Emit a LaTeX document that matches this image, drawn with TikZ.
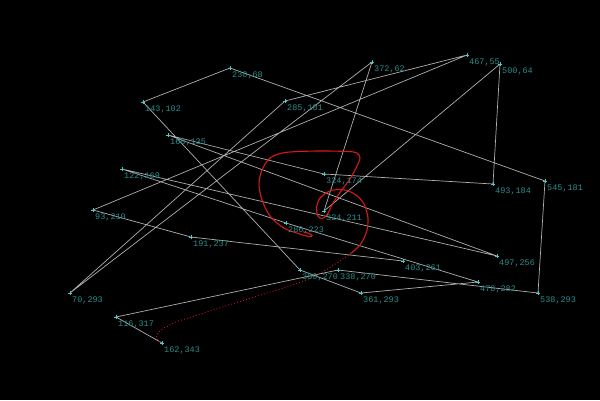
\documentclass[tikz,border=0pt]{standalone}
\usepackage{fontspec}
\setmonofont{Liberation Mono}
\definecolor{edgegray}{RGB}{175,175,175}
\definecolor{markcyan}{RGB}{80,200,200}
\definecolor{labelteal}{RGB}{45,140,140}
\definecolor{curvered}{RGB}{215,25,25}
\tikzset{
  edge/.style={draw=edgegray, line width=0.7pt},
  marker/.style={draw=markcyan, line width=0.7pt},
  lbl/.style={text=labelteal, font=\ttfamily\fontsize{8.5}{9}\selectfont, inner sep=0pt, anchor=north west},
  curvesolid/.style={draw=curvered, line width=1.1pt},
  curvedot/.style={draw=curvered, line width=0.9pt, dash pattern=on 0.9pt off 2.2pt}
}
\begin{document}
\begin{tikzpicture}[x=1pt,y=-1pt]
\fill[black] (0,0) rectangle (600,400);
\useasboundingbox (0,0) rectangle (600,400);
% points
\foreach \px/\py in {143/102,230/68,285/101,372/62,467/55,500/64,168/135,122/169,324/174,493/184,545/181,93/210,324/211,286/223,191/237,403/261,497/256,300/270,338/270,478/282,538/293,361/293,70/293,116/317,162/343}{
  \coordinate (p\px-\py) at (\px,\py);
}
% polyline
\draw[edge] (p403-261) -- (p191-237) -- (p93-210) -- (p467-55) -- (p285-101) -- (p70-293) -- (p372-62) -- (p324-211) -- (p500-64) -- (p493-184) -- (p324-174) -- (p168-135) -- (p497-256) -- (p122-169) -- (p286-223) -- (p478-282) -- (p361-293) -- (p300-270) -- (p143-102) -- (p230-68) -- (p545-181) -- (p538-293) -- (p338-270) -- (p116-317) -- (p162-343);
% red curve
\draw[curvedot] plot[smooth, tension=0.5] coordinates {(160,342) (156.5,338) (157.5,334) (161,330) (167,326.5) (177,321.5) (193,316.5) (213,310) (240,301.5) (267,293) (293,285) (317,275) (337,263) (350,254)};
\draw[curvesolid] plot[smooth, tension=0.5] coordinates {(350,254) (360,245) (366.5,232) (368,218) (364,204) (356,195) (345,190) (331,190.5) (320,198) (316.5,208) (318,216) (322,218.5) (327,215) (333,203) (341,191) (350,179) (356.5,167) (360,158) (357,153) (348,151.5) (317,151) (285,152.5) (270,158) (262,170) (259,184) (262,200) (270,216) (283,227.5) (298,233.5) (309,236.5) (312,235.5) (309,233.5) (303,231.8)};
% markers and labels
\foreach \px/\py in {143/102,230/68,285/101,372/62,467/55,500/64,168/135,122/169,324/174,493/184,545/181,93/210,324/211,286/223,191/237,403/261,497/256,300/270,338/270,478/282,538/293,361/293,70/293,116/317,162/343}{
  \draw[marker] ([xshift=-2pt]p\px-\py) -- ([xshift=2pt]p\px-\py);
  \draw[marker] ([yshift=-2pt]p\px-\py) -- ([yshift=2pt]p\px-\py);
  \node[lbl] (l\px-\py) at ([xshift=2pt,yshift=-4pt]p\px-\py) {\px,\py};
}
\end{tikzpicture}
\end{document}
